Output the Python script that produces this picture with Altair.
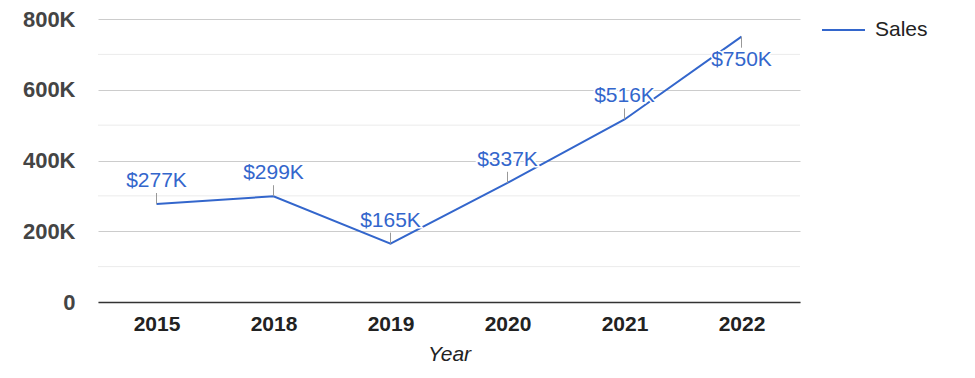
import altair as alt
import pandas as pd

years = ["2015", "2018", "2019", "2020", "2021", "2022"]
sales = [277000, 299000, 165000, 337000, 516000, 750000]
label_above = [True, True, True, True, True, False]
minor_grid = [100000, 300000, 500000, 700000]
major_ticks = [0, 200000, 400000, 600000, 800000]
series_name = "Sales"

df = pd.DataFrame({"Year": years, "Sales": sales, "above": label_above})
df["label"] = ["$" + str(round(v / 1000)) + "K" for v in sales]
grid_df = pd.DataFrame({"v": minor_grid})

FONT = "Liberation Sans"
BLUE = "#3366CC"

x_enc = alt.X("Year:N", sort=years,
              scale=alt.Scale(type="point", padding=0.5),
              axis=alt.Axis(title="Year", labelAngle=0, labelFontWeight="bold",
                            labelFontSize=21, labelColor="#222", labelPadding=11,
                            titleFontStyle="italic", titleFontWeight="normal",
                            titleFontSize=21, titleColor="#222", titlePadding=9,
                            domain=True, domainColor="#333", domainWidth=1.5,
                            ticks=False, grid=False, labelFont=FONT, titleFont=FONT))
y_scale = alt.Scale(domain=[0, 800000], nice=False)
y_enc = alt.Y("Sales:Q", scale=y_scale,
              axis=alt.Axis(title=None, values=major_ticks,
                            labelExpr="datum.value == 0 ? '0' : (datum.value/1000) + 'K'",
                            labelFontWeight="bold", labelFontSize=22, labelColor="#444",
                            labelPadding=23, labelFont=FONT,
                            domain=False, ticks=False, grid=True,
                            gridColor="#cccccc", gridWidth=1))

base = alt.Chart(df)

minor = alt.Chart(grid_df).mark_rule(color="#ebebeb", strokeWidth=1).encode(
    y=alt.Y("v:Q", scale=y_scale)
)

line = base.mark_line(color=BLUE, strokeWidth=2).encode(x=x_enc, y=y_enc)

stem_up = base.transform_filter("datum.above").mark_rule(
    color="#999999", strokeWidth=1, y2Offset=-11
).encode(x=alt.X("Year:N", sort=years), y="Sales:Q", y2="Sales:Q")
stem_down = base.transform_filter("!datum.above").mark_rule(
    color="#999999", strokeWidth=1, y2Offset=11
).encode(x=alt.X("Year:N", sort=years), y="Sales:Q", y2="Sales:Q")

def labels(filt, dy):
    halo = base.transform_filter(filt).mark_text(
        font=FONT, fontSize=21, dy=dy, stroke="white", strokeWidth=3,
        color="white", baseline="middle"
    ).encode(x=alt.X("Year:N", sort=years), y="Sales:Q", text="label:N")
    txt = base.transform_filter(filt).mark_text(
        font=FONT, fontSize=21, dy=dy, color=BLUE, baseline="middle"
    ).encode(x=alt.X("Year:N", sort=years), y="Sales:Q", text="label:N")
    return halo + txt

lab_up = labels("datum.above", -23)
lab_down = labels("!datum.above", 23)

legend_line = alt.Chart(pd.DataFrame({"n": [series_name]})).mark_rule(
    color=BLUE, strokeWidth=2, clip=False
).encode(x=alt.value(724), x2=alt.value(767), y=alt.value(11))
legend_text = alt.Chart(pd.DataFrame({"n": [series_name]})).mark_text(
    font=FONT, fontSize=21, color="#222", align="left", baseline="middle", clip=False
).encode(x=alt.value(777), y=alt.value(11), text="n:N")

chart = alt.layer(
    minor, line, stem_up, stem_down, lab_up, lab_down, legend_line, legend_text
).properties(
    width=702, height=283,
    autosize=alt.AutoSizeParams(type="none"),
    padding={"left": 90, "top": 11, "right": 150, "bottom": 66},
).configure(background="white", view=alt.ViewConfig(stroke=None, strokeWidth=0))

chart.save("out.html", embed_options={"renderer": "svg", "actions": False})
